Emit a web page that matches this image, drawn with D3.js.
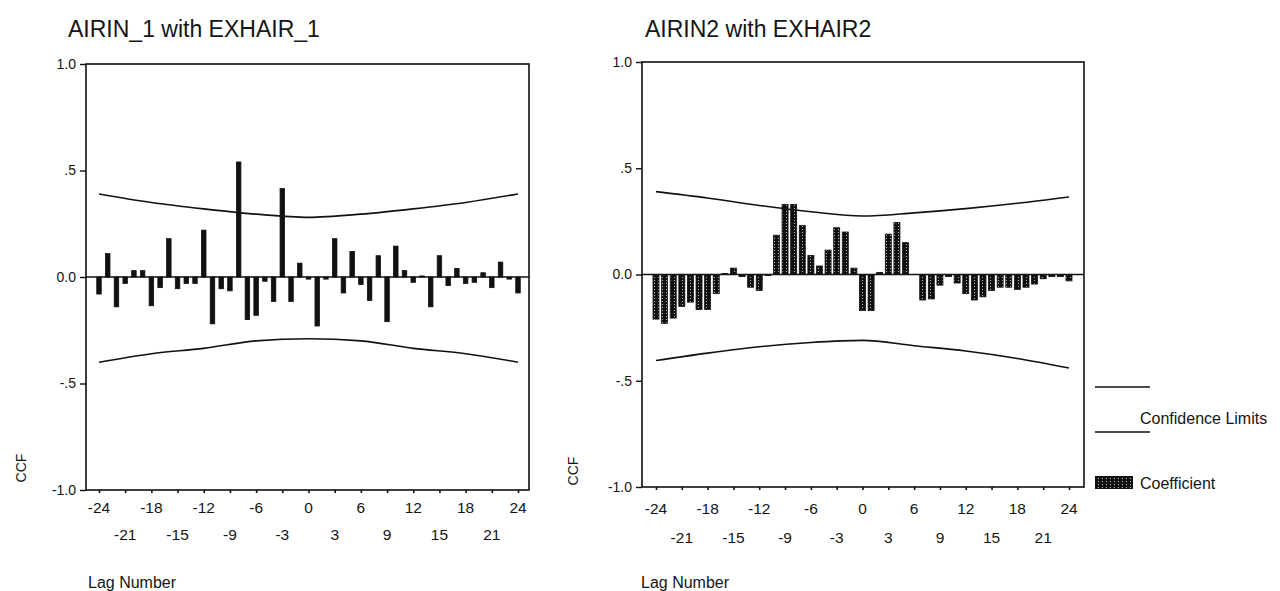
<!DOCTYPE html>
<html>
<head>
<meta charset="utf-8">
<script src="https://cdn.jsdelivr.net/npm/d3@7/dist/d3.min.js"></script>
<style>
  body { margin: 0; background: #fff; }
  text { font-family: Arial, "Liberation Sans", sans-serif; fill: #151515; }
</style>
</head>
<body>
<svg id="chart" width="1280" height="591"></svg>
<script>
// lags shown on both panels
const lags = [-24, -23, -22, -21, -20, -19, -18, -17, -16, -15, -14, -13, -12, -11, -10, -9, -8, -7, -6, -5, -4, -3, -2, -1,
  0, 1, 2, 3, 4, 5, 6, 7, 8, 9, 10, 11, 12, 13, 14, 15, 16, 17, 18, 19, 20, 21, 22, 23, 24];
const xTickLags = [-24, -21, -18, -15, -12, -9, -6, -3, 0, 3, 6, 9, 12, 15, 18, 21, 24];
const xLabelsTop = [-24, -18, -12, -6, 0, 6, 12, 18, 24];
const xLabelsBottom = [-21, -15, -9, -3, 3, 9, 15, 21];
const yTicks = [1, 0.5, 0, -0.5, -1];
const yTickLabels = ["1.0", ".5", "0.0", "-.5", "-1.0"];

// AIRIN_1 with EXHAIR_1
const ccf1 = [-0.08, 0.11, -0.14, -0.03, 0.03, 0.03, -0.135, -0.05, 0.18, -0.055, -0.03, -0.03, 0.22, -0.22, -0.055, -0.065,
  0.54, -0.20, -0.18, -0.02, -0.115, 0.415, -0.115, 0.065, -0.01, -0.23, -0.01, 0.18, -0.075, 0.12, -0.035, -0.11,
  0.10, -0.21, 0.145, 0.03, -0.025, 0.005, -0.14, 0.10, -0.04, 0.04, -0.03, -0.025, 0.02, -0.05, 0.07, -0.01, -0.075];

// AIRIN2 with EXHAIR2
const ccf2 = [-0.21, -0.23, -0.205, -0.15, -0.13, -0.165, -0.165, -0.09, 0.005, 0.03, -0.01, -0.06, -0.075, -0.005, 0.185, 0.33,
  0.33, 0.23, 0.09, 0.04, 0.115, 0.22, 0.20, 0.03, -0.17, -0.17, 0.01, 0.19, 0.245, 0.15, 0.0, -0.12,
  -0.115, -0.05, -0.01, -0.04, -0.09, -0.12, -0.105, -0.075, -0.06, -0.06, -0.07, -0.06, -0.045, -0.02, -0.01, -0.01, -0.03];

// confidence limits read at every 6th lag
const limitLags = [-24, -18, -12, -6, 0, 6, 12, 18, 24];
const upper1 = [0.39, 0.35, 0.32, 0.295, 0.28, 0.295, 0.32, 0.35, 0.39];
const lower1 = [-0.40, -0.36, -0.335, -0.30, -0.29, -0.30, -0.335, -0.36, -0.40];
const upper2 = [0.39, 0.36, 0.325, 0.295, 0.275, 0.29, 0.31, 0.335, 0.365];
const lower2 = [-0.405, -0.37, -0.34, -0.32, -0.31, -0.335, -0.36, -0.395, -0.44];

const titles = ["AIRIN_1 with EXHAIR_1", "AIRIN2 with EXHAIR2"];

const svg = d3.select("#chart");

// texture for the coefficient bars
const defs = svg.append("defs");
const pat = defs.append("pattern")
  .attr("id", "dots")
  .attr("width", 4)
  .attr("height", 3)
  .attr("patternUnits", "userSpaceOnUse");
pat.append("rect").attr("width", 4).attr("height", 3).attr("fill", "#111");
pat.append("rect").attr("x", 2).attr("y", 1).attr("width", 1).attr("height", 1).attr("fill", "#bbb");

const panels = [
  { title: titles[0], values: ccf1, upper: upper1, lower: lower1, left: 86, right: 529, x0: 99, x1: 518, top: 64, bottom: 490,
    barWidth: 4.5, fill: "#111", titleX: 68, ccfX: 21, ccfY: 468, lagX: 88, row1: 513, row2: 540 },
  { title: titles[1], values: ccf2, upper: upper2, lower: lower2, left: 642, right: 1084, x0: 656, x1: 1069, top: 62, bottom: 487,
    barWidth: 6, fill: "url(#dots)", titleX: 645, ccfX: 573, ccfY: 471, lagX: 641, row1: 514, row2: 543 }
];

panels.forEach((p) => {
  const x = d3.scaleLinear().domain([-24, 24]).range([p.x0, p.x1]);
  const y = d3.scaleLinear().domain([-1, 1]).range([p.bottom, p.top]);
  const g = svg.append("g");

  // title
  g.append("text")
    .attr("x", p.titleX)
    .attr("y", 37)
    .attr("font-size", 23)
    .text(p.title);

  // frame
  g.append("rect")
    .attr("x", p.left)
    .attr("y", y(1))
    .attr("width", p.right - p.left)
    .attr("height", y(-1) - y(1))
    .attr("fill", "none")
    .attr("stroke", "#111")
    .attr("stroke-width", 1.6);

  // y axis
  const yAxis = g.append("g")
    .attr("transform", "translate(" + p.left + ",0)")
    .call(d3.axisLeft(y).tickValues(yTicks).tickSize(6).tickPadding(4)
      .tickFormat((d, i) => yTickLabels[i]));
  yAxis.select(".domain").remove();
  yAxis.selectAll("line").attr("stroke", "#111").attr("stroke-width", 1.4);
  yAxis.selectAll("text").attr("font-size", 14).attr("font-family", "Arial, 'Liberation Sans', sans-serif").attr("fill", "#151515");

  // x axis ticks
  const xAxis = g.append("g")
    .attr("transform", "translate(0," + y(-1) + ")")
    .call(d3.axisBottom(x).tickValues(xTickLags).tickSize(3).tickFormat(""));
  xAxis.select(".domain").remove();
  xAxis.selectAll("line").attr("stroke", "#111").attr("stroke-width", 1.6);

  // two rows of lag labels
  g.selectAll(".lab1")
    .data(xLabelsTop)
    .join("text")
    .attr("x", (d) => x(d))
    .attr("y", p.row1)
    .attr("text-anchor", "middle")
    .attr("font-size", 15.5)
    .text((d) => d);
  g.selectAll(".lab2")
    .data(xLabelsBottom)
    .join("text")
    .attr("x", (d) => x(d))
    .attr("y", p.row2)
    .attr("text-anchor", "middle")
    .attr("font-size", 15.5)
    .text((d) => d);

  // axis titles
  g.append("text")
    .attr("transform", "translate(" + (p.ccfX + 5) + "," + p.ccfY + ") rotate(-90)")
    .attr("text-anchor", "middle")
    .attr("font-size", 14)
    .text("CCF");
  g.append("text")
    .attr("x", p.lagX)
    .attr("y", 588)
    .attr("font-size", 16)
    .text("Lag Number");

  // zero line
  g.append("line")
    .attr("x1", p.left)
    .attr("x2", p.right)
    .attr("y1", y(0))
    .attr("y2", y(0))
    .attr("stroke", "#111")
    .attr("stroke-width", 1.4);

  // coefficient bars
  g.selectAll(".bar")
    .data(p.values)
    .join("rect")
    .attr("x", (d, i) => x(lags[i]) - p.barWidth / 2)
    .attr("y", (d) => y(Math.max(0, d)))
    .attr("width", p.barWidth)
    .attr("height", (d) => Math.abs(y(d) - y(0)))
    .attr("fill", p.fill)
    .attr("stroke", "#111")
    .attr("stroke-width", 0.8);

  // confidence limits
  const line = d3.line()
    .x((d, i) => x(limitLags[i]))
    .y((d) => y(d))
    .curve(d3.curveMonotoneX);
  [p.upper, p.lower].forEach((lim) => {
    g.append("path")
      .datum(lim)
      .attr("fill", "none")
      .attr("stroke", "#111")
      .attr("stroke-width", 1.6)
      .attr("d", line);
  });
});

// legend
const legend = svg.append("g");
[387, 432].forEach((ly) => {
  legend.append("line")
    .attr("x1", 1095)
    .attr("x2", 1150)
    .attr("y1", ly)
    .attr("y2", ly)
    .attr("stroke", "#111")
    .attr("stroke-width", 1.6);
});
legend.append("text")
  .attr("x", 1140)
  .attr("y", 424)
  .attr("font-size", 16)
  .text("Confidence Limits");
legend.append("rect")
  .attr("x", 1095)
  .attr("y", 476)
  .attr("width", 38)
  .attr("height", 13)
  .attr("fill", "url(#dots)");
legend.append("text")
  .attr("x", 1140)
  .attr("y", 489)
  .attr("font-size", 16)
  .text("Coefficient");
</script>
</body>
</html>
